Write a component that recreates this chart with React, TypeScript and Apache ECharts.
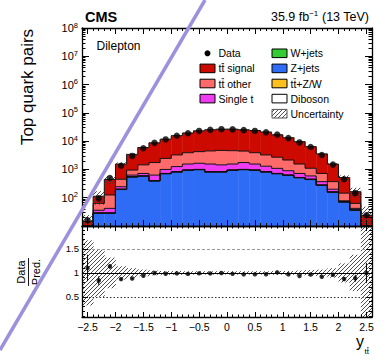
import { useEffect, useRef } from 'react';
import * as echarts from 'echarts';

// Rapidity binning of the top-quark pair system
const BIN_MIN = -2.6;
const BIN_WIDTH = 0.2;

// Predicted yields per bin, stacked from bottom to top
const zJets = [1.8, 28, 28, 194, 535, 575, 390, 700, 808, 925, 975, 808, 808, 925, 975, 925, 808, 700, 612, 505, 437, 272, 155, 70, 36, 1.8];
const diboson = [0.1, 0.6, 0.6, 4, 10, 10, 7, 14, 15, 17, 17, 15, 15, 17, 17, 17, 15, 14, 12, 10, 9, 6, 4, 1.4, 0.6, 0.1];
const ttV = [0.05, 0.2, 0.2, 1.5, 4, 4, 2.5, 5, 6, 7, 7, 6, 6, 7, 7, 7, 6, 5, 5, 4, 3, 1.5, 0.8, 0.4, 0.2, 0.05];
const wJets = [0.05, 0.2, 0.2, 0.5, 1, 1, 0.5, 1, 1, 1, 1, 1, 1, 1, 1, 1, 1, 1, 1, 1, 1, 0.5, 0.2, 0.2, 0.2, 0.05];
const singleTop = [0.5, 7, 13, 45, 80, 130, 230, 280, 430, 600, 650, 720, 620, 600, 750, 600, 470, 370, 270, 200, 140, 90, 40, 6, 5, 0.5];
const ttOther = [1.5, 27, 83, 205, 320, 730, 1120, 1450, 1990, 2350, 2600, 2950, 3250, 3050, 2700, 2350, 1950, 1610, 1250, 830, 510, 350, 170, 67, 21, 1.5];
const ttSignal = [10.5, 50, 315, 1100, 2450, 4500, 6950, 9250, 12400, 15500, 18950, 20750, 21800, 21900, 20800, 19800, 17850, 14100, 11050, 8050, 5300, 2810, 1170, 370, 100, 20];

// Observed events and their statistical errors
const dataCounts = [16, 95, 500, 1350, 3000, 5600, 8700, 11500, 15500, 19000, 23000, 25000, 26500, 26000, 24500, 23000, 20500, 17000, 12800, 9000, 6200, 3250, 1480, 450, 145, 24];
const dataErrors = [4, 10, 22, 37, 55, 75, 93, 107, 124, 138, 152, 158, 163, 161, 157, 152, 143, 130, 113, 95, 79, 57, 38, 21, 12, 5];

// Relative uncertainty of the prediction
const predUncertainty = [0.68, 0.5, 0.32, 0.14, 0.1, 0.07, 0.05, 0.04, 0.04, 0.035, 0.035, 0.035, 0.035, 0.035, 0.035, 0.035, 0.035, 0.04, 0.04, 0.05, 0.06, 0.07, 0.1, 0.2, 0.38, 1.0];

// Axis ticks
const X_TICKS = [-2.5, -2, -1.5, -1, -0.5, 0, 0.5, 1, 1.5, 2, 2.5];
const LOG_TICKS = [1e1, 1e2, 1e3, 1e4, 1e5, 1e6, 1e7, 1e8];
const LOG_LABELS = [1e2, 1e3, 1e4, 1e5, 1e6, 1e7, 1e8];
const RATIO_TICKS = [0.5, 1, 1.5];

const YMIN = 10;
const YMAX = 1e8;
const RMIN = 0.08;
const RMAX = 1.98;

const FONT = '"Liberation Sans", Arial, Helvetica, sans-serif';

// "tt" entries get a bar over the second t when drawn
const layers = [
  { name: 'Z+jets', values: zJets, color: '#2f6cf6', bar: false },
  { name: 'Diboson', values: diboson, color: '#ffffff', bar: false },
  { name: 'tt+Z/W', values: ttV, color: '#ffbf1f', bar: true },
  { name: 'W+jets', values: wJets, color: '#33cc33', bar: false },
  { name: 'Single t', values: singleTop, color: '#f03cf0', bar: false },
  { name: 'tt other', values: ttOther, color: '#ff6b6b', bar: true },
  { name: 'tt signal', values: ttSignal, color: '#cc0a00', bar: true },
];

const HATCH_SVG =
  '<svg xmlns="http://www.w3.org/2000/svg" width="4" height="4">' +
  '<path d="M-1,1 L1,-1 M0,4 L4,0 M3,5 L5,3" stroke="#3a3a3a" stroke-width="0.9"/></svg>';
const hatch: any = {
  image: 'data:image/svg+xml;charset=utf-8,' + encodeURIComponent(HATCH_SVG),
  repeat: 'repeat',
  imageWidth: 4,
  imageHeight: 4,
};

function buildOption() {
  const nBins = dataCounts.length;
  const edge = (i: number) => BIN_MIN + i * BIN_WIDTH;
  const xMax = edge(nBins);
  const bins = dataCounts.map((_, i) => i);

  // cumulative stack tops
  const tops: number[][] = [];
  layers.forEach((layer, k) => {
    tops.push(bins.map((i) => (k ? tops[k - 1][i] : 0) + layer.values[i]));
  });
  const total = tops[tops.length - 1];
  const ratio = bins.map((i) => dataCounts[i] / total[i]);
  const ratioErr = bins.map((i) => dataErrors[i] / total[i]);

  const line = (a: number[], b: number[], stroke = '#111', w = 1) => ({
    type: 'line',
    shape: { x1: a[0], y1: a[1], x2: b[0], y2: b[1] },
    style: { stroke, lineWidth: w },
    silent: true,
  });

  const fillRenderer = (color: any, lower: number, upper: number) => (_p: any, api: any) => {
    const lo = Math.min(Math.max(api.value(2), lower), upper);
    const hi = Math.min(Math.max(api.value(3), lower), upper);
    const a = api.coord([api.value(0), hi]);
    const b = api.coord([api.value(1), lo]);
    return {
      type: 'rect',
      shape: { x: a[0], y: a[1], width: b[0] - a[0] + 0.4, height: b[1] - a[1] },
      style: { fill: color },
      silent: true,
    };
  };

  const outlineRenderer = (_p: any, api: any) => {
    const hi = Math.max(api.value(2), YMIN);
    const prev = Math.max(api.value(3), YMIN);
    const pA = api.coord([api.value(0), hi]);
    const pB = api.coord([api.value(1), hi]);
    const pP = api.coord([api.value(0), prev]);
    const children: any[] = [line(pA, pB), line(pP, pA)];
    if (api.value(4)) children.push(line(pB, api.coord([api.value(1), YMIN])));
    return { type: 'group', children };
  };

  const errRenderer = (_p: any, api: any) => {
    const a = api.coord([api.value(0), api.value(1)]);
    const b = api.coord([api.value(0), api.value(2)]);
    return line(a, b, '#000', 1);
  };

  const series: any[] = [];

  layers.forEach((layer, k) => {
    series.push({
      type: 'custom',
      name: layer.name,
      xAxisIndex: 0,
      yAxisIndex: 0,
      clip: true,
      z: 2,
      encode: { x: [0, 1], y: [2, 3] },
      data: bins.map((i) => [edge(i), edge(i + 1), k ? tops[k - 1][i] : YMIN * 0.01, tops[k][i]]),
      renderItem: fillRenderer(layer.color, YMIN, YMAX),
    });
  });

  layers.forEach((layer, k) => {
    series.push({
      type: 'custom',
      name: layer.name + ' outline',
      xAxisIndex: 0,
      yAxisIndex: 0,
      clip: true,
      z: 3,
      encode: { x: [0, 1], y: [2, 3] },
      data: bins.map((i) => [edge(i), edge(i + 1), tops[k][i], i ? tops[k][i - 1] : YMIN, i === nBins - 1 ? 1 : 0]),
      renderItem: outlineRenderer,
    });
  });

  series.push({
    type: 'custom',
    name: 'Uncertainty',
    xAxisIndex: 0,
    yAxisIndex: 0,
    clip: true,
    z: 4,
    encode: { x: [0, 1], y: [2, 3] },
    data: bins.map((i) => [edge(i), edge(i + 1), total[i] * (1 - predUncertainty[i]), total[i] * (1 + predUncertainty[i])]),
    renderItem: fillRenderer(hatch, YMIN, YMAX),
  });

  series.push({
    type: 'custom',
    name: 'Data errors',
    xAxisIndex: 0,
    yAxisIndex: 0,
    clip: true,
    z: 5,
    encode: { x: 0, y: [1, 2] },
    data: bins.map((i) => [edge(i) + BIN_WIDTH / 2, dataCounts[i] - dataErrors[i], dataCounts[i] + dataErrors[i]]),
    renderItem: errRenderer,
  });

  series.push({
    type: 'scatter',
    name: 'Data',
    xAxisIndex: 0,
    yAxisIndex: 0,
    z: 6,
    symbol: 'circle',
    symbolSize: 6.5,
    itemStyle: { color: '#000' },
    data: bins.map((i) => [edge(i) + BIN_WIDTH / 2, dataCounts[i]]),
  });

  // ratio panel
  series.push({
    type: 'custom',
    name: 'Ratio uncertainty',
    xAxisIndex: 4,
    yAxisIndex: 4,
    clip: true,
    z: 2,
    encode: { x: [0, 1], y: [2, 3] },
    data: bins.map((i) => [edge(i), edge(i + 1), 1 - predUncertainty[i], 1 + predUncertainty[i]]),
    renderItem: fillRenderer(hatch, RMIN, RMAX),
  });

  series.push({
    type: 'line',
    name: 'Reference',
    xAxisIndex: 4,
    yAxisIndex: 4,
    z: 3,
    symbol: 'none',
    lineStyle: { opacity: 0 },
    data: bins.map((i) => [edge(i) + BIN_WIDTH / 2, ratio[i]]),
    markLine: {
      silent: true,
      symbol: ['none', 'none'],
      label: { show: false },
      animation: false,
      data: [
        { yAxis: 1.5, lineStyle: { color: '#9a9a9a', type: [3, 2], width: 1 } },
        { yAxis: 1, lineStyle: { color: '#000', type: 'solid', width: 1 } },
        { yAxis: 0.5, lineStyle: { color: '#333', type: [1.5, 2], width: 1 } },
      ],
    },
  });

  series.push({
    type: 'custom',
    name: 'Ratio errors',
    xAxisIndex: 4,
    yAxisIndex: 4,
    clip: true,
    z: 4,
    encode: { x: 0, y: [1, 2] },
    data: bins.map((i) => [edge(i) + BIN_WIDTH / 2, ratio[i] - ratioErr[i], ratio[i] + ratioErr[i]]),
    renderItem: errRenderer,
  });

  series.push({
    type: 'scatter',
    name: 'Data/Pred.',
    xAxisIndex: 4,
    yAxisIndex: 4,
    z: 5,
    symbol: 'circle',
    symbolSize: 4.5,
    itemStyle: { color: '#000' },
    data: bins.map((i) => [edge(i) + BIN_WIDTH / 2, ratio[i]]),
  });

  const frame = { show: true, onZero: false, lineStyle: { color: '#000', width: 1.3 } };
  const noLine = { show: false, onZero: false };
  const tickStyle = { color: '#000', width: 1 };

  const xAxis = (gridIndex: number, position: string, major: boolean, len: number, labels: boolean) => ({
    type: 'value',
    gridIndex,
    position,
    min: BIN_MIN,
    max: xMax,
    z: 10,
    ...(major ? {} : { interval: 0.1 }),
    axisLine: major ? frame : noLine,
    axisTick: major
      ? { show: true, inside: true, length: len, customValues: X_TICKS, lineStyle: tickStyle }
      : { show: true, inside: true, length: len, lineStyle: tickStyle },
    axisLabel: labels
      ? {
          show: true,
          customValues: X_TICKS,
          margin: 4,
          fontSize: 10.5,
          fontFamily: FONT,
          color: '#000',
          formatter: (v: number) => (v < 0 ? '\u2212' + Math.abs(v) : String(v)),
        }
      : { show: false },
    splitLine: { show: false },
  });

  const LOG_MINOR: number[] = [];
  for (let d = 1; d < 8; d++) for (let m = 2; m <= 9; m++) LOG_MINOR.push(m * Math.pow(10, d));
  const RATIO_MINOR: number[] = [];
  for (let t = 1; t <= 19; t++) RATIO_MINOR.push(t / 10);

  const logY = (position: string, major: boolean, labels: boolean) => ({
    type: 'log',
    logBase: 10,
    gridIndex: 0,
    position,
    min: YMIN,
    max: YMAX,
    z: 10,
    axisLine: major ? frame : noLine,
    axisTick: { show: true, inside: true, length: major ? 7 : 3.5, customValues: major ? LOG_TICKS : LOG_MINOR, lineStyle: tickStyle },
    axisLabel: labels
      ? {
          show: true,
          customValues: LOG_LABELS,
          margin: 4,
          formatter: (v: number) => `{b|10}{s|${Math.round(Math.log10(v))}}`,
          rich: {
            b: { fontSize: 11, fontFamily: FONT, color: '#000', lineHeight: 14 },
            s: { fontSize: 7.5, fontFamily: FONT, color: '#000', lineHeight: 8, verticalAlign: 'top' },
          },
        }
      : { show: false },
    splitLine: { show: false },
  });

  const ratioY = (position: string, major: boolean, labels: boolean) => ({
    type: 'value',
    gridIndex: 1,
    position,
    min: RMIN,
    max: RMAX,
    z: 10,
    axisLine: major ? frame : noLine,
    axisTick: { show: true, inside: true, length: major ? 6 : 3, customValues: major ? RATIO_TICKS : RATIO_MINOR, lineStyle: tickStyle },
    axisLabel: labels
      ? { show: true, customValues: RATIO_TICKS, margin: 3, fontSize: 9.5, fontFamily: FONT, color: '#000' }
      : { show: false },
    splitLine: { show: false },
  });

  const txt = (x: number, y: number, text: string, font: string, align = 'left', extra: any = {}) => ({
    type: 'text',
    x,
    y,
    ...extra,
    style: { text, font, fill: '#000', align, verticalAlign: 'middle', textAlign: align, textVerticalAlign: 'middle' },
  });

  // bar over the second "t" of a text that starts with "tt"
  const ttBar = (x: number, cy: number, fs: number) => ({
    type: 'line',
    shape: { x1: x + 0.278 * fs + 0.2, y1: cy - 0.46 * fs, x2: x + 0.556 * fs - 0.2, y2: cy - 0.46 * fs },
    style: { stroke: '#000', lineWidth: 0.8 },
    silent: true,
  });

  // legend drawn as graphics
  const legendLeft = [
    { name: 'Data', kind: 'data', bar: false },
    { name: 'tt signal', kind: 'box', bar: true },
    { name: 'tt other', kind: 'box', bar: true },
    { name: 'Single t', kind: 'box', bar: false },
  ];
  const legendRight = [
    { name: 'W+jets', kind: 'box', bar: false },
    { name: 'Z+jets', kind: 'box', bar: false },
    { name: 'tt+Z/W', kind: 'box', bar: true },
    { name: 'Diboson', kind: 'box', bar: false },
    { name: 'Uncertainty', kind: 'hatch', bar: false },
  ];
  const colorOf = (name: string) => layers.find((l) => l.name === name)?.color || '#fff';
  const legendGraphics: any[] = [];
  const LEGEND_FS = 10.5;
  const addLegend = (items: any[], bx: number) => {
    items.forEach((it, r) => {
      const cy = 53.3 + r * 15.1;
      if (it.kind === 'data') {
        legendGraphics.push({ type: 'circle', shape: { cx: bx + 7.5, cy, r: 3 }, style: { fill: '#000' } });
      } else {
        legendGraphics.push({
          type: 'rect',
          shape: { x: bx, y: cy - 4.3, width: 15, height: 8.6 },
          style: { fill: it.kind === 'hatch' ? hatch : colorOf(it.name), stroke: it.kind === 'hatch' ? '#555' : '#000', lineWidth: 1 },
        });
      }
      legendGraphics.push(txt(bx + 18.5, cy, it.name, `${LEGEND_FS}px ${FONT}`));
      if (it.bar) legendGraphics.push(ttBar(bx + 18.5, cy, LEGEND_FS));
    });
  };
  addLegend(legendLeft, 200);
  addLegend(legendRight, 272);

  const graphic: any[] = [
    txt(85, 17, 'CMS', `bold 14.5px ${FONT}`),
    {
      type: 'text',
      x: 369,
      y: 17,
      style: {
        text: '{a|35.9 fb}{s|\u22121}{a| (13 TeV)}',
        align: 'right',
        verticalAlign: 'middle',
        textAlign: 'right',
        textVerticalAlign: 'middle',
        rich: {
          a: { fontSize: 12.5, fontFamily: FONT, color: '#000', lineHeight: 15 },
          s: { fontSize: 8, fontFamily: FONT, color: '#000', lineHeight: 9, verticalAlign: 'top' },
        },
      },
    },
    txt(96.5, 46, 'Dilepton', `12px ${FONT}`),
    txt(27, 87, 'Top quark pairs', `17px ${FONT}`, 'center', { rotation: Math.PI / 2 }),
    {
      type: 'group',
      x: 28.5,
      y: 272,
      rotation: Math.PI / 2,
      children: [
        txt(0, -7.5, 'Data', `11px ${FONT}`, 'center'),
        { type: 'line', shape: { x1: -14, y1: 0, x2: 14, y2: 0 }, style: { stroke: '#000', lineWidth: 0.9 } },
        txt(0, 7.5, 'Pred.', `11px ${FONT}`, 'center'),
      ],
    },
    // x-axis title: y with a "tt" subscript
    txt(356, 341, 'y', `16px ${FONT}`),
    txt(364.5, 351.5, 'tt', `8px ${FONT}`),
    ttBar(364.5, 351.5, 8),
    ...legendGraphics,
    {
      type: 'line',
      z: 100,
      shape: { x1: 205, y1: 0, x2: 0, y2: 350 },
      style: { stroke: '#9d90dc', lineWidth: 3.5 },
      silent: true,
    },
  ];

  return {
    animation: false,
    backgroundColor: '#ffffff',
    textStyle: { fontFamily: FONT },
    grid: [
      { left: 82, top: 28, width: 290, height: 198 },
      { left: 82, top: 226, width: 290, height: 91 },
    ],
    xAxis: [
      xAxis(0, 'bottom', true, 6, false),
      xAxis(0, 'bottom', false, 3, false),
      xAxis(0, 'top', true, 6, false),
      xAxis(0, 'top', false, 3, false),
      xAxis(1, 'bottom', true, 5, true),
      xAxis(1, 'bottom', false, 2.5, false),
      xAxis(1, 'top', true, 5, false),
      xAxis(1, 'top', false, 2.5, false),
    ],
    yAxis: [
      logY('left', true, true),
      logY('left', false, false),
      logY('right', true, false),
      logY('right', false, false),
      ratioY('left', true, true),
      ratioY('left', false, false),
      ratioY('right', true, false),
      ratioY('right', false, false),
    ],
    series,
    graphic,
  };
}

export default function App() {
  const ref = useRef<HTMLDivElement>(null);
  useEffect(() => {
    if (!ref.current) return;
    const chart = echarts.init(ref.current, undefined, { renderer: 'svg' });
    chart.setOption(buildOption() as any);
    return () => chart.dispose();
  }, []);
  return (
    <div
      ref={ref}
      style={{ position: 'absolute', left: 0, top: 0, width: 386, height: 362, background: '#fff' }}
    />
  );
}
